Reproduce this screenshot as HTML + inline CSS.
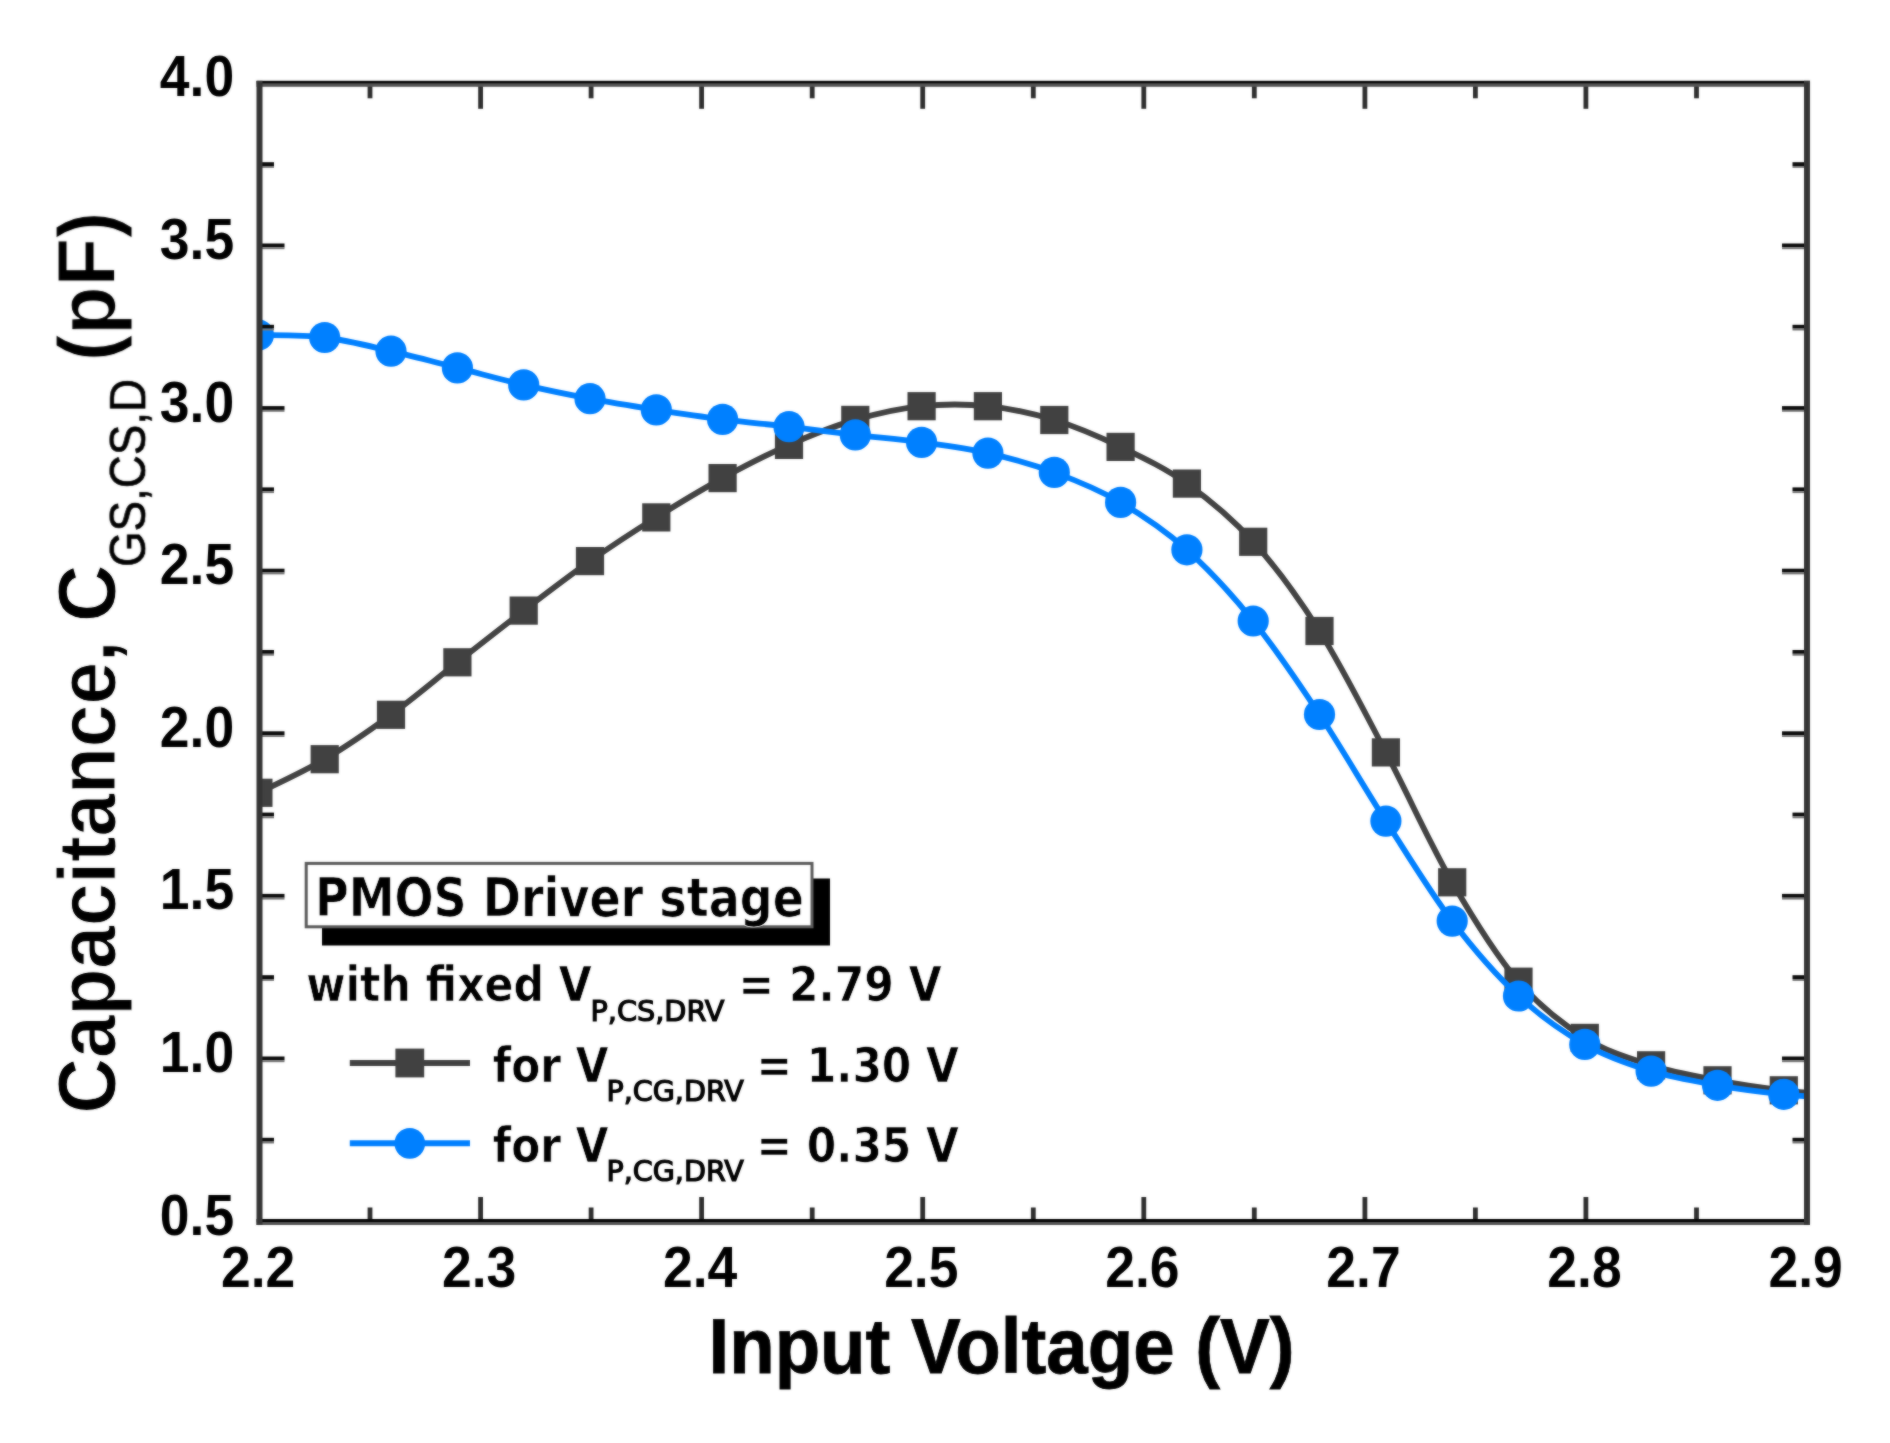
<!DOCTYPE html>
<html lang="en"><head><meta charset="utf-8"><title>PMOS Driver stage capacitance</title>
<style>html,body{margin:0;padding:0;background:#fff;}body{width:1890px;height:1443px;overflow:hidden;}svg{display:block;}.a{font-family:"Liberation Sans",Arial,Helvetica,sans-serif;font-weight:bold;fill:#000;}.ar{font-family:"Liberation Sans",Arial,Helvetica,sans-serif;font-weight:normal;fill:#000;}.d{font-family:"DejaVu Sans","Liberation Sans",Verdana,sans-serif;font-weight:bold;fill:#000;}.dr{font-family:"DejaVu Sans","Liberation Sans",Verdana,sans-serif;font-weight:normal;fill:#000;stroke:#000;}</style></head><body>
<svg width="1890" height="1443" viewBox="0 0 1890 1443">
<rect width="1890" height="1443" fill="#fff"/>
<defs><filter id="soft" filterUnits="userSpaceOnUse" x="0" y="0" width="1890" height="1443" color-interpolation-filters="sRGB"><feGaussianBlur in="SourceGraphic" stdDeviation="0.8" result="b"/><feComposite in="SourceGraphic" in2="b" operator="arithmetic" k1="0" k2="0.5" k3="0.5" k4="0"/></filter><clipPath id="pc"><rect x="259.5" y="83.8" width="1547.5" height="1138.2"/></clipPath></defs>
<g filter="url(#soft)">
<g clip-path="url(#pc)">
<path d="M258.4,792.8 C269.5,787.2 302.6,772.2 324.7,759.2 C346.8,746.2 368.9,730.9 391.0,714.8 C413.2,698.6 435.3,679.7 457.4,662.3 C479.5,644.9 501.6,627.5 523.7,610.6 C545.8,593.7 567.9,576.6 590.0,561.1 C612.1,545.6 634.2,531.2 656.3,517.4 C678.4,503.6 700.5,490.2 722.6,478.1 C744.8,466.0 766.9,454.6 789.0,444.9 C811.1,435.2 833.2,426.3 855.3,419.9 C877.4,413.4 899.5,408.5 921.6,406.2 C943.7,403.9 965.8,403.9 987.9,406.2 C1010.0,408.5 1032.1,413.2 1054.3,420.0 C1076.4,426.8 1098.5,436.3 1120.6,446.9 C1142.7,457.5 1164.8,467.8 1186.9,483.6 C1209.0,499.4 1231.1,517.2 1253.2,541.8 C1275.3,566.4 1297.4,595.9 1319.5,631.0 C1341.6,666.1 1363.8,710.5 1385.9,752.4 C1408.0,794.3 1430.1,844.1 1452.2,882.3 C1474.3,920.5 1496.4,955.8 1518.5,981.7 C1540.6,1007.6 1562.7,1024.0 1584.8,1037.9 C1606.9,1051.8 1629.0,1058.2 1651.1,1065.3 C1673.3,1072.4 1695.4,1076.1 1717.5,1080.3 C1739.6,1084.5 1761.7,1087.7 1783.8,1090.3 C1805.9,1092.9 1839.1,1095.0 1850.1,1096.0" fill="none" stroke="#424242" stroke-width="5.8" stroke-linejoin="round"/>
<rect x="244.3" y="778.7" width="28.2" height="28.2" fill="#414141"/>
<rect x="310.6" y="745.1" width="28.2" height="28.2" fill="#414141"/>
<rect x="376.9" y="700.7" width="28.2" height="28.2" fill="#414141"/>
<rect x="443.3" y="648.2" width="28.2" height="28.2" fill="#414141"/>
<rect x="509.6" y="596.5" width="28.2" height="28.2" fill="#414141"/>
<rect x="575.9" y="547.0" width="28.2" height="28.2" fill="#414141"/>
<rect x="642.2" y="503.3" width="28.2" height="28.2" fill="#414141"/>
<rect x="708.5" y="464.0" width="28.2" height="28.2" fill="#414141"/>
<rect x="774.9" y="430.8" width="28.2" height="28.2" fill="#414141"/>
<rect x="841.2" y="405.8" width="28.2" height="28.2" fill="#414141"/>
<rect x="907.5" y="392.1" width="28.2" height="28.2" fill="#414141"/>
<rect x="973.8" y="392.1" width="28.2" height="28.2" fill="#414141"/>
<rect x="1040.2" y="405.9" width="28.2" height="28.2" fill="#414141"/>
<rect x="1106.5" y="432.8" width="28.2" height="28.2" fill="#414141"/>
<rect x="1172.8" y="469.5" width="28.2" height="28.2" fill="#414141"/>
<rect x="1239.1" y="527.7" width="28.2" height="28.2" fill="#414141"/>
<rect x="1305.4" y="616.9" width="28.2" height="28.2" fill="#414141"/>
<rect x="1371.8" y="738.3" width="28.2" height="28.2" fill="#414141"/>
<rect x="1438.1" y="868.2" width="28.2" height="28.2" fill="#414141"/>
<rect x="1504.4" y="967.6" width="28.2" height="28.2" fill="#414141"/>
<rect x="1570.7" y="1023.8" width="28.2" height="28.2" fill="#414141"/>
<rect x="1637.0" y="1051.2" width="28.2" height="28.2" fill="#414141"/>
<rect x="1703.4" y="1066.2" width="28.2" height="28.2" fill="#414141"/>
<rect x="1769.7" y="1076.2" width="28.2" height="28.2" fill="#414141"/>
<path d="M258.4,335.0 C269.5,335.4 302.6,334.8 324.7,337.5 C346.8,340.2 368.9,346.1 391.0,351.2 C413.2,356.3 435.3,362.3 457.4,367.9 C479.5,373.5 501.6,379.8 523.7,384.9 C545.8,390.0 567.9,394.5 590.0,398.7 C612.1,402.9 634.2,406.4 656.3,409.9 C678.4,413.3 700.5,416.6 722.6,419.4 C744.8,422.2 766.9,424.1 789.0,426.7 C811.1,429.3 833.2,432.3 855.3,434.9 C877.4,437.5 899.5,439.4 921.6,442.4 C943.7,445.4 965.8,448.1 987.9,453.1 C1010.0,458.1 1032.1,464.2 1054.3,472.4 C1076.4,480.6 1098.5,489.5 1120.6,502.4 C1142.7,515.3 1164.8,530.0 1186.9,549.8 C1209.0,569.6 1231.1,593.5 1253.2,621.0 C1275.3,648.5 1297.4,681.1 1319.5,714.5 C1341.6,747.9 1363.8,786.7 1385.9,821.1 C1408.0,855.5 1430.1,892.0 1452.2,921.1 C1474.3,950.2 1496.4,975.5 1518.5,996.0 C1540.6,1016.5 1562.7,1031.9 1584.8,1044.4 C1606.9,1056.9 1629.0,1064.3 1651.1,1071.1 C1673.3,1077.9 1695.4,1081.4 1717.5,1085.3 C1739.6,1089.2 1761.7,1092.0 1783.8,1094.3 C1805.9,1096.6 1839.1,1098.2 1850.1,1099.0" fill="none" stroke="#0080ff" stroke-width="5.8" stroke-linejoin="round"/>
<circle cx="258.4" cy="335.0" r="15.6" fill="#0080ff"/>
<circle cx="324.7" cy="337.5" r="15.6" fill="#0080ff"/>
<circle cx="391.0" cy="351.2" r="15.6" fill="#0080ff"/>
<circle cx="457.4" cy="367.9" r="15.6" fill="#0080ff"/>
<circle cx="523.7" cy="384.9" r="15.6" fill="#0080ff"/>
<circle cx="590.0" cy="398.7" r="15.6" fill="#0080ff"/>
<circle cx="656.3" cy="409.9" r="15.6" fill="#0080ff"/>
<circle cx="722.6" cy="419.4" r="15.6" fill="#0080ff"/>
<circle cx="789.0" cy="426.7" r="15.6" fill="#0080ff"/>
<circle cx="855.3" cy="434.9" r="15.6" fill="#0080ff"/>
<circle cx="921.6" cy="442.4" r="15.6" fill="#0080ff"/>
<circle cx="987.9" cy="453.1" r="15.6" fill="#0080ff"/>
<circle cx="1054.3" cy="472.4" r="15.6" fill="#0080ff"/>
<circle cx="1120.6" cy="502.4" r="15.6" fill="#0080ff"/>
<circle cx="1186.9" cy="549.8" r="15.6" fill="#0080ff"/>
<circle cx="1253.2" cy="621.0" r="15.6" fill="#0080ff"/>
<circle cx="1319.5" cy="714.5" r="15.6" fill="#0080ff"/>
<circle cx="1385.9" cy="821.1" r="15.6" fill="#0080ff"/>
<circle cx="1452.2" cy="921.1" r="15.6" fill="#0080ff"/>
<circle cx="1518.5" cy="996.0" r="15.6" fill="#0080ff"/>
<circle cx="1584.8" cy="1044.4" r="15.6" fill="#0080ff"/>
<circle cx="1651.1" cy="1071.1" r="15.6" fill="#0080ff"/>
<circle cx="1717.5" cy="1085.3" r="15.6" fill="#0080ff"/>
<circle cx="1783.8" cy="1094.3" r="15.6" fill="#0080ff"/>
</g>
<g fill="#2e2e2e">
<rect x="367.6" y="1207.5" width="4.8" height="12.5"/>
<rect x="367.6" y="85.8" width="4.8" height="12.5"/>
<rect x="478.2" y="1197.0" width="4.8" height="23.0"/>
<rect x="478.2" y="85.8" width="4.8" height="23.0"/>
<rect x="588.7" y="1207.5" width="4.8" height="12.5"/>
<rect x="588.7" y="85.8" width="4.8" height="12.5"/>
<rect x="699.2" y="1197.0" width="4.8" height="23.0"/>
<rect x="699.2" y="85.8" width="4.8" height="23.0"/>
<rect x="809.8" y="1207.5" width="4.8" height="12.5"/>
<rect x="809.8" y="85.8" width="4.8" height="12.5"/>
<rect x="920.3" y="1197.0" width="4.8" height="23.0"/>
<rect x="920.3" y="85.8" width="4.8" height="23.0"/>
<rect x="1030.9" y="1207.5" width="4.8" height="12.5"/>
<rect x="1030.9" y="85.8" width="4.8" height="12.5"/>
<rect x="1141.4" y="1197.0" width="4.8" height="23.0"/>
<rect x="1141.4" y="85.8" width="4.8" height="23.0"/>
<rect x="1251.9" y="1207.5" width="4.8" height="12.5"/>
<rect x="1251.9" y="85.8" width="4.8" height="12.5"/>
<rect x="1362.5" y="1197.0" width="4.8" height="23.0"/>
<rect x="1362.5" y="85.8" width="4.8" height="23.0"/>
<rect x="1473.0" y="1207.5" width="4.8" height="12.5"/>
<rect x="1473.0" y="85.8" width="4.8" height="12.5"/>
<rect x="1583.5" y="1197.0" width="4.8" height="23.0"/>
<rect x="1583.5" y="85.8" width="4.8" height="23.0"/>
<rect x="1694.1" y="1207.5" width="4.8" height="12.5"/>
<rect x="1694.1" y="85.8" width="4.8" height="12.5"/>
</g>
<rect x="261.5" y="1137.8" width="12.5" height="3.8" fill="#0a0a0a"/>
<rect x="261.5" y="1141.6" width="12.5" height="1.9" fill="#7a7a7a"/>
<rect x="1792.5" y="1137.8" width="12.5" height="3.8" fill="#0a0a0a"/>
<rect x="1792.5" y="1141.6" width="12.5" height="1.9" fill="#7a7a7a"/>
<rect x="261.5" y="1056.5" width="23.0" height="3.8" fill="#0a0a0a"/>
<rect x="261.5" y="1060.3" width="23.0" height="1.9" fill="#7a7a7a"/>
<rect x="1782.0" y="1056.5" width="23.0" height="3.8" fill="#0a0a0a"/>
<rect x="1782.0" y="1060.3" width="23.0" height="1.9" fill="#7a7a7a"/>
<rect x="261.5" y="975.2" width="12.5" height="3.8" fill="#0a0a0a"/>
<rect x="261.5" y="979.0" width="12.5" height="1.9" fill="#7a7a7a"/>
<rect x="1792.5" y="975.2" width="12.5" height="3.8" fill="#0a0a0a"/>
<rect x="1792.5" y="979.0" width="12.5" height="1.9" fill="#7a7a7a"/>
<rect x="261.5" y="893.9" width="23.0" height="3.8" fill="#0a0a0a"/>
<rect x="261.5" y="897.7" width="23.0" height="1.9" fill="#7a7a7a"/>
<rect x="1782.0" y="893.9" width="23.0" height="3.8" fill="#0a0a0a"/>
<rect x="1782.0" y="897.7" width="23.0" height="1.9" fill="#7a7a7a"/>
<rect x="261.5" y="812.6" width="12.5" height="3.8" fill="#0a0a0a"/>
<rect x="261.5" y="816.4" width="12.5" height="1.9" fill="#7a7a7a"/>
<rect x="1792.5" y="812.6" width="12.5" height="3.8" fill="#0a0a0a"/>
<rect x="1792.5" y="816.4" width="12.5" height="1.9" fill="#7a7a7a"/>
<rect x="261.5" y="731.3" width="23.0" height="3.8" fill="#0a0a0a"/>
<rect x="261.5" y="735.1" width="23.0" height="1.9" fill="#7a7a7a"/>
<rect x="1782.0" y="731.3" width="23.0" height="3.8" fill="#0a0a0a"/>
<rect x="1782.0" y="735.1" width="23.0" height="1.9" fill="#7a7a7a"/>
<rect x="261.5" y="650.0" width="12.5" height="3.8" fill="#0a0a0a"/>
<rect x="261.5" y="653.8" width="12.5" height="1.9" fill="#7a7a7a"/>
<rect x="1792.5" y="650.0" width="12.5" height="3.8" fill="#0a0a0a"/>
<rect x="1792.5" y="653.8" width="12.5" height="1.9" fill="#7a7a7a"/>
<rect x="261.5" y="568.7" width="23.0" height="3.8" fill="#0a0a0a"/>
<rect x="261.5" y="572.5" width="23.0" height="1.9" fill="#7a7a7a"/>
<rect x="1782.0" y="568.7" width="23.0" height="3.8" fill="#0a0a0a"/>
<rect x="1782.0" y="572.5" width="23.0" height="1.9" fill="#7a7a7a"/>
<rect x="261.5" y="487.4" width="12.5" height="3.8" fill="#0a0a0a"/>
<rect x="261.5" y="491.2" width="12.5" height="1.9" fill="#7a7a7a"/>
<rect x="1792.5" y="487.4" width="12.5" height="3.8" fill="#0a0a0a"/>
<rect x="1792.5" y="491.2" width="12.5" height="1.9" fill="#7a7a7a"/>
<rect x="261.5" y="406.1" width="23.0" height="3.8" fill="#0a0a0a"/>
<rect x="261.5" y="409.9" width="23.0" height="1.9" fill="#7a7a7a"/>
<rect x="1782.0" y="406.1" width="23.0" height="3.8" fill="#0a0a0a"/>
<rect x="1782.0" y="409.9" width="23.0" height="1.9" fill="#7a7a7a"/>
<rect x="261.5" y="324.8" width="12.5" height="3.8" fill="#0a0a0a"/>
<rect x="261.5" y="328.6" width="12.5" height="1.9" fill="#7a7a7a"/>
<rect x="1792.5" y="324.8" width="12.5" height="3.8" fill="#0a0a0a"/>
<rect x="1792.5" y="328.6" width="12.5" height="1.9" fill="#7a7a7a"/>
<rect x="261.5" y="243.5" width="23.0" height="3.8" fill="#0a0a0a"/>
<rect x="261.5" y="247.3" width="23.0" height="1.9" fill="#7a7a7a"/>
<rect x="1782.0" y="243.5" width="23.0" height="3.8" fill="#0a0a0a"/>
<rect x="1782.0" y="247.3" width="23.0" height="1.9" fill="#7a7a7a"/>
<rect x="261.5" y="162.2" width="12.5" height="3.8" fill="#0a0a0a"/>
<rect x="261.5" y="166.0" width="12.5" height="1.9" fill="#7a7a7a"/>
<rect x="1792.5" y="162.2" width="12.5" height="3.8" fill="#0a0a0a"/>
<rect x="1792.5" y="166.0" width="12.5" height="1.9" fill="#7a7a7a"/>
<rect x="256.5" y="80.8" width="1553.5" height="3" fill="#050505"/>
<rect x="256.5" y="83.8" width="1553.5" height="3" fill="#555"/>
<rect x="256.5" y="1219.0" width="1553.5" height="3" fill="#050505"/>
<rect x="256.5" y="1222.0" width="1553.5" height="3" fill="#555"/>
<rect x="256.5" y="80.8" width="6" height="1144.2" fill="#353535"/>
<rect x="1804.0" y="80.8" width="6" height="1144.2" fill="#353535"/>
<g class="a" font-size="57.5" text-anchor="middle">
<text transform="translate(258.1,1286.9) scale(0.93,1)">2.2</text>
<text transform="translate(479.2,1286.9) scale(0.93,1)">2.3</text>
<text transform="translate(700.2,1286.9) scale(0.93,1)">2.4</text>
<text transform="translate(921.3,1286.9) scale(0.93,1)">2.5</text>
<text transform="translate(1142.4,1286.9) scale(0.93,1)">2.6</text>
<text transform="translate(1363.5,1286.9) scale(0.93,1)">2.7</text>
<text transform="translate(1584.5,1286.9) scale(0.93,1)">2.8</text>
<text transform="translate(1805.6,1286.9) scale(0.93,1)">2.9</text>
</g>
<g class="a" font-size="57.5" text-anchor="end">
<text transform="translate(234.2,1234.6) scale(0.93,1)">0.5</text>
<text transform="translate(234.2,1072.0) scale(0.93,1)">1.0</text>
<text transform="translate(234.2,909.4) scale(0.93,1)">1.5</text>
<text transform="translate(234.2,746.8) scale(0.93,1)">2.0</text>
<text transform="translate(234.2,584.2) scale(0.93,1)">2.5</text>
<text transform="translate(234.2,421.6) scale(0.93,1)">3.0</text>
<text transform="translate(234.2,259.0) scale(0.93,1)">3.5</text>
<text transform="translate(234.2,96.4) scale(0.93,1)">4.0</text>
</g>
<text class="a" font-size="77.5" x="708.46" y="1372.50" textLength="586.06" lengthAdjust="spacingAndGlyphs" stroke="#000" stroke-width="0.8">Input Voltage (V)</text>
<text class="a" font-size="81" transform="translate(115.10,1113.40) rotate(-90)" textLength="472.80" lengthAdjust="spacingAndGlyphs" stroke="#fff" stroke-width="1.0">Capacitance,</text>
<text class="a" font-size="81" transform="translate(115.10,622.06) rotate(-90)" textLength="57.32" lengthAdjust="spacingAndGlyphs" stroke="#fff" stroke-width="1.0">C</text>
<text class="ar" font-size="49.5" transform="translate(145.20,566.91) rotate(-90)" textLength="187.93" lengthAdjust="spacingAndGlyphs" stroke="#000" stroke-width="0.7">GS,CS,D</text>
<text class="a" font-size="81" transform="translate(115.10,361.14) rotate(-90)" textLength="149.38" lengthAdjust="spacingAndGlyphs" stroke="#fff" stroke-width="1.0">(pF)</text>
<rect x="322" y="878.5" width="508" height="67" fill="#000"/>
<rect x="306.2" y="863.4" width="505.8" height="63.4" fill="#fff" stroke="#5a5a5a" stroke-width="3"/>
<text class="d" font-size="52.5" x="314.95" y="915.90" textLength="488.95" lengthAdjust="spacingAndGlyphs" stroke="#fff" stroke-width="0.7">PMOS Driver stage</text>
<text class="d" font-size="48.5" x="306.15" y="1001.30" textLength="285.59" lengthAdjust="spacingAndGlyphs" stroke="#fff" stroke-width="0.7">with fixed V</text>
<text class="dr" font-size="27.5" x="590.47" y="1020.60" textLength="133.95" lengthAdjust="spacingAndGlyphs" stroke-width="1.2">P,CS,DRV</text>
<text class="d" font-size="48.5" x="738.58" y="1001.30" textLength="202.96" lengthAdjust="spacingAndGlyphs" stroke="#fff" stroke-width="0.7">= 2.79 V</text>
<text class="d" font-size="48.5" x="492.79" y="1081.70" textLength="115.66" lengthAdjust="spacingAndGlyphs" stroke="#fff" stroke-width="0.7">for V</text>
<text class="dr" font-size="27.5" x="606.53" y="1101.00" textLength="137.16" lengthAdjust="spacingAndGlyphs" stroke-width="1.2">P,CG,DRV</text>
<text class="d" font-size="48.5" x="756.56" y="1081.70" textLength="202.35" lengthAdjust="spacingAndGlyphs" stroke="#fff" stroke-width="0.7">= 1.30 V</text>
<text class="d" font-size="48.5" x="492.79" y="1161.70" textLength="115.66" lengthAdjust="spacingAndGlyphs" stroke="#fff" stroke-width="0.7">for V</text>
<text class="dr" font-size="27.5" x="606.53" y="1181.00" textLength="137.16" lengthAdjust="spacingAndGlyphs" stroke-width="1.2">P,CG,DRV</text>
<text class="d" font-size="48.5" x="756.56" y="1161.70" textLength="202.35" lengthAdjust="spacingAndGlyphs" stroke="#fff" stroke-width="0.7">= 0.35 V</text>
<line x1="349.8" y1="1063" x2="470" y2="1063" stroke="#414141" stroke-width="6"/>
<rect x="395.4" y="1048.6" width="28.8" height="28.8" fill="#414141"/>
<line x1="349.8" y1="1143.3" x2="470" y2="1143.3" stroke="#0080ff" stroke-width="6"/>
<circle cx="409.8" cy="1143.3" r="15.4" fill="#0080ff"/>
</g>
</svg></body></html>
